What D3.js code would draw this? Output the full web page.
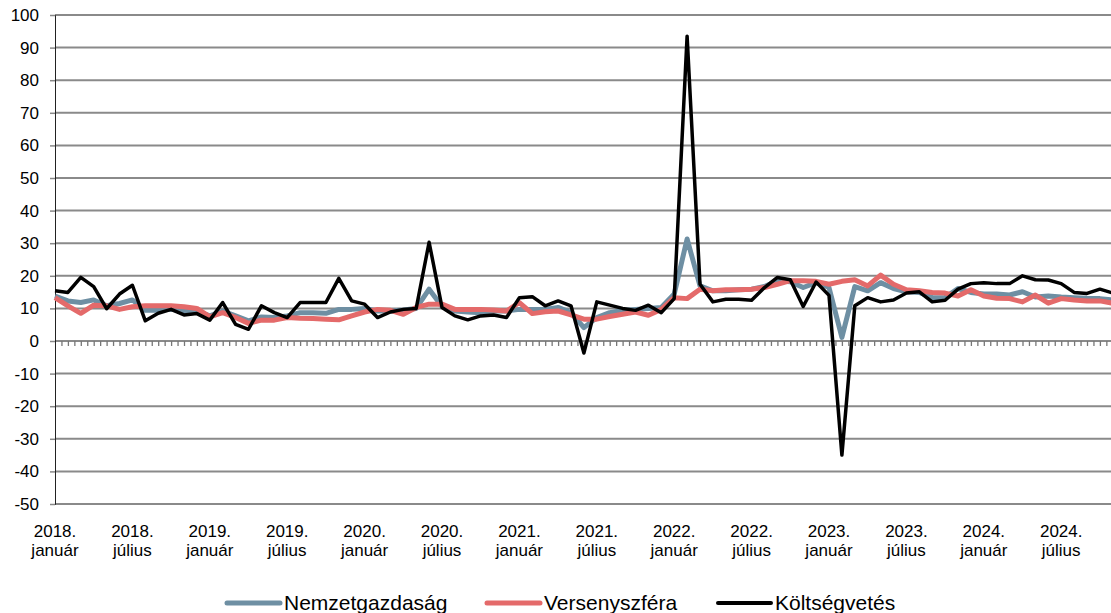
<!DOCTYPE html>
<html lang="hu">
<head>
<meta charset="UTF-8">
<title>Keresetek</title>
<script src="https://d3js.org/d3.v7.min.js"></script>
<style>
  body { margin: 0; background: #fff; }
  svg { font-family: "Liberation Sans", Arial, sans-serif; }
</style>
</head>
<body>
<svg id="chart"></svg>
<script>
// havi adatok 2018. január - 2024. november
let years = ["2018", "2019", "2020", "2021", "2022", "2023", "2024"]
let monthNames = ["január", "július"]

let seriesNames = ["Nemzetgazdaság", "Versenyszféra", "Költségvetés"]

let nemzetgazdasag = [13.8, 12.3, 11.8, 12.6, 10.8, 11.5, 12.6, 9.4, 9.4, 9.7, 9.2, 9.2,
  7.7, 9.2, 7.7, 6.2, 7.4, 7.2, 7.7, 8.7, 8.7, 8.5, 9.7, 9.7,
  10.0, 9.2, 9.2, 9.5, 10.0, 15.9, 10.6, 9.2, 8.9, 8.7, 9.2, 9.2,
  9.7, 9.7, 9.7, 10.3, 8.7, 4.1, 7.2, 8.7, 9.4, 9.7, 10.0, 10.3,
  14.4, 31.3, 16.9, 15.4, 15.4, 15.7, 15.9, 16.7, 18.5, 18.2, 16.4, 17.9,
  16.4, 1.1, 16.7, 15.4, 17.9, 16.1, 15.1, 14.9, 13.3, 13.3, 16.1, 14.9,
  14.4, 14.4, 14.1, 15.1, 13.5, 13.8, 13.5, 13.3, 13.1, 13.0, 12.6]

let versenyszfera = [13.3, 10.8, 8.5, 11.0, 10.8, 9.7, 10.5, 10.8, 10.8, 10.8, 10.5, 10.0,
  7.4, 8.7, 7.2, 5.4, 6.4, 6.4, 7.2, 7.0, 6.9, 6.7, 6.5, 7.7,
  8.9, 9.7, 9.4, 8.2, 10.3, 11.3, 11.3, 9.7, 9.7, 9.7, 9.5, 9.2,
  11.8, 8.4, 9.0, 9.2, 8.0, 6.7, 6.7, 7.5, 8.2, 8.9, 7.9, 9.7,
  13.3, 13.0, 15.9, 15.4, 15.7, 15.7, 15.9, 16.4, 17.4, 18.5, 18.5, 18.3,
  17.4, 18.3, 18.8, 16.9, 20.2, 17.4, 15.7, 15.4, 14.9, 14.7, 13.8, 15.7,
  13.8, 13.1, 13.0, 12.0, 14.1, 11.6, 13.0, 12.6, 12.3, 12.3, 11.6]

let koltsegvetes = [15.4, 14.9, 19.5, 16.7, 9.9, 14.4, 17.1, 6.2, 8.5, 9.7, 8.0, 8.4,
  6.4, 11.8, 5.1, 3.6, 10.8, 8.7, 7.2, 11.8, 11.8, 11.8, 19.2, 12.3,
  11.3, 7.2, 8.9, 9.7, 10.0, 30.3, 10.3, 7.7, 6.5, 7.7, 8.0, 7.2,
  13.3, 13.6, 10.8, 12.3, 10.8, -3.7, 12.0, 11.0, 10.0, 9.4, 11.0, 8.7,
  13.0, 93.5, 17.4, 12.0, 12.8, 12.8, 12.5, 16.4, 19.5, 18.8, 10.6, 18.1,
  14.0, -35.0, 10.8, 13.3, 12.0, 12.6, 14.7, 15.1, 12.0, 12.5, 15.9, 17.6,
  17.9, 17.6, 17.6, 20.0, 18.8, 18.7, 17.6, 14.9, 14.6, 15.9, 14.7]

let yTicks = [-50, -40, -30, -20, -10, 0, 10, 20, 30, 40, 50, 60, 70, 80, 90, 100]

let colors = ["#6e8fa3", "#e46a6a", "#000000"]
let widths = [5, 5, 3.5]

let width = 1111
let height = 613
let plotLeft = 55
let plotRight = 1111
let step = 12.9
let plotTop = 15
let plotBottom = 504

let svg = d3.select("#chart")
svg.attr("width", width).attr("height", height)

let n = koltsegvetes.length

// az utolsó hónap kicsit túllóg a képen, ahogy az eredetin
let xScale = d3.scaleLinear()
  .domain([0, n - 1])
  .range([plotLeft, plotLeft + step * (n - 1)])

let yScale = d3.scaleLinear()
  .domain([-50, 100])
  .range([plotBottom, plotTop])

// vízszintes rácsvonalak
svg.append("g")
  .selectAll("line")
  .data(yTicks)
  .enter()
  .append("line")
  .attr("x1", plotLeft)
  .attr("x2", plotRight)
  .attr("y1", d => yScale(d))
  .attr("y2", d => yScale(d))
  .attr("stroke", "#8a8a8a")
  .attr("stroke-width", 2)

let yAxis = d3.axisLeft(yScale)
  .tickValues(yTicks)
  .tickSize(5)
  .tickPadding(11)
  .tickFormat(d => String(d))

let yg = svg.append("g")
  .attr("transform", "translate(" + plotLeft + ",0)")
  .call(yAxis)
yg.select(".domain").attr("stroke", "#222").attr("stroke-width", 1)
yg.selectAll(".tick line").attr("stroke", "#888").attr("stroke-width", 1.5)
yg.selectAll(".tick text")
  .attr("font-size", 17)
  .attr("fill", "#000")
  .attr("font-family", "'Liberation Sans', Arial, sans-serif")

// havi osztások a nulla vonalon
let halfTicks = d3.range(1, (n - 1) * 2 + 1).map(k => k / 2)
let xAxis = d3.axisBottom(xScale)
  .tickValues(halfTicks)
  .tickSize(5)
  .tickFormat("")
let xg = svg.append("g")
  .attr("transform", "translate(0," + yScale(0) + ")")
  .call(xAxis)
xg.select(".domain").remove()
xg.selectAll(".tick line").attr("stroke", "#777").attr("stroke-width", 1.3)

// dátum feliratok félévente
let labelIdx = []
let labelTop = []
let labelBottom = []
years.forEach((y, i) => {
  monthNames.forEach((m, j) => {
    let idx = i * 12 + j * 6
    if (idx < n) {
      labelIdx.push(idx)
      labelTop.push(y + ".")
      labelBottom.push(m)
    }
  })
})

let lab = svg.append("g")
  .selectAll("text")
  .data(labelIdx)
  .enter()
  .append("text")
  .attr("x", d => xScale(d))
  .attr("y", 537)
  .attr("text-anchor", "middle")
  .attr("font-size", 17)
lab.append("tspan")
  .attr("x", d => xScale(d))
  .text((d, i) => labelTop[i])
lab.append("tspan")
  .attr("x", d => xScale(d))
  .attr("dy", 19)
  .text((d, i) => labelBottom[i])

// vonalak
let allSeries = [nemzetgazdasag, versenyszfera, koltsegvetes]
let line = d3.line()
  .x((d, i) => xScale(i))
  .y(d => yScale(d))

svg.append("g")
  .selectAll("path")
  .data(allSeries)
  .enter()
  .append("path")
  .attr("d", d => line(d))
  .attr("fill", "none")
  .attr("stroke", (d, i) => colors[i])
  .attr("stroke-width", (d, i) => widths[i])
  .attr("stroke-linejoin", "round")

// jelmagyarázat
let legendX = [227, 487, 718]
let legend = svg.append("g")
  .selectAll("g")
  .data(seriesNames)
  .enter()
  .append("g")
  .attr("transform", (d, i) => "translate(" + legendX[i] + ",603)")
legend.append("line")
  .attr("x1", 0)
  .attr("x2", 53)
  .attr("stroke", (d, i) => colors[i])
  .attr("stroke-width", (d, i) => i == 2 ? 4 : 5)
  .attr("stroke-linecap", "round")
legend.append("text")
  .attr("x", 57)
  .attr("y", 7)
  .attr("font-size", 21)
  .text(d => d)
</script>
</body>
</html>
